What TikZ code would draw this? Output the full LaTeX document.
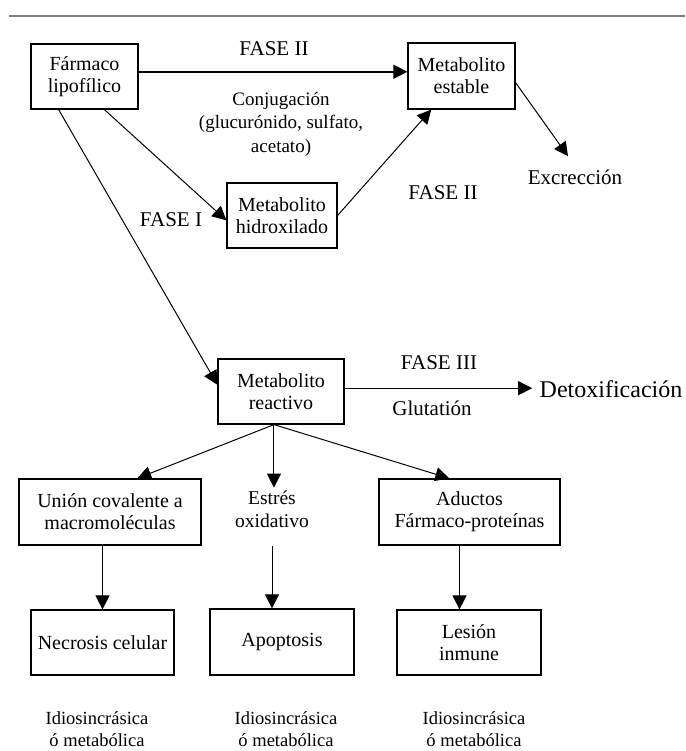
\documentclass[tikz,border=0pt]{standalone}
\usepackage{fontspec}
\setmainfont{Liberation Serif}
\usetikzlibrary{arrows.meta}

\begin{document}
\begin{tikzpicture}[x=1pt,y=-1pt,
    box/.style 2 args={draw, line width=1.2pt, align=center, inner sep=0pt, minimum width=#1, minimum height=#2, font=\fontsize{20}{22}\selectfont},
    lbl/.style={align=center, font=\fontsize{21}{24}\selectfont},
    note/.style={align=center, font=\fontsize{18.5}{22.5}\selectfont},
    arr/.style={-{Triangle[length=14pt,width=14pt]}, line width=1pt}]
    \useasboundingbox (0,0) rectangle (685,751);
    \draw[gray, line width=2pt] (9,16) -- (685,16);

    % boxes
    \node[box={107pt}{65pt}] (farm) at (84.5,76.5) {Fármaco\\lipofílico};
    \node[box={107pt}{66pt}] (estab) at (461.5,76) {Metabolito\\estable};
    \node[box={110pt}{65pt}] (hidrox) at (282,215.5) {Metabolito\\hidroxilado};
    \node[box={126pt}{65pt}] (react) at (281,391.5) {Metabolito\\reactivo};
    \node[box={182pt}{66pt}] (union) at (110,512) {Unión covalente a\\macromoléculas};
    \node[box={181pt}{66pt}] (aduc) at (469.5,512) {Aductos\\Fármaco-proteínas};
    \node[box={143pt}{65pt}] (necro) at (102.5,642.5) {Necrosis celular};
    \node[box={144pt}{66pt}] (apop) at (282,642) {Apoptosis};
    \node[box={144pt}{65pt}] (lesion) at (469,642.5) {Lesión\\inmune};

    % labels
    \node[lbl] (fasea) at (274,49) {FASE II};
    \node[note, font=\fontsize{19}{23.5}\selectfont] (conj) at (281,124) {Conjugación\\(glucurónido, sulfato,\\acetato)};
    \node[lbl] (fasei) at (171,220) {FASE I};
    \node[lbl] (faseb) at (443,193) {FASE II};
    \node[lbl] (excr) at (575,177) {Excrección};
    \node[lbl] (faseiii) at (439,363) {FASE III};
    \node[lbl] (glut) at (432,408) {Glutatión};
    \node[lbl, font=\fontsize{24}{28}\selectfont] (detox) at (611,389) {Detoxificación};
    \node[note, font=\fontsize{19.5}{23}\selectfont] (estres) at (272,509.5) {Estrés\\oxidativo};
    \node[note] (idioa) at (97,729) {Idiosincrásica\\ó metabólica};
    \node[note] (idiob) at (286,729) {Idiosincrásica\\ó metabólica};
    \node[note] (idioc) at (474,729) {Idiosincrásica\\ó metabólica};

    % arrows
    \draw[arr, line width=1.5pt] (farm.5) -- (farm.5 -| estab.west);
    \draw[arr] (farm.-59) -- (hidrox.185);
    \draw[arr] (farm.232) -- (react.174);
    \draw[arr] (hidrox.east) -- (estab.228);
    \draw[arr, shorten >=12pt] (estab.-7) -- (excr.north);
    \draw[arr, shorten >=4pt] (react.3) -- (react.3 -| detox.west);
    \draw[arr] (react.-102) -- (union.51);
    \draw[arr] (react.-102) -- (react.-102 |- estres.north);
    \draw[arr] (react.-102) -- (aduc.121);
    \draw[arr] (necro.north |- union.south) -- (necro.north);
    \draw[arr] (estres.south |- union.south) -- (estres.south |- apop.north);
    \draw[arr] ([xshift=-10pt]aduc.south) -- ([xshift=-10pt]aduc.south |- lesion.north);
\end{tikzpicture}
\end{document}
